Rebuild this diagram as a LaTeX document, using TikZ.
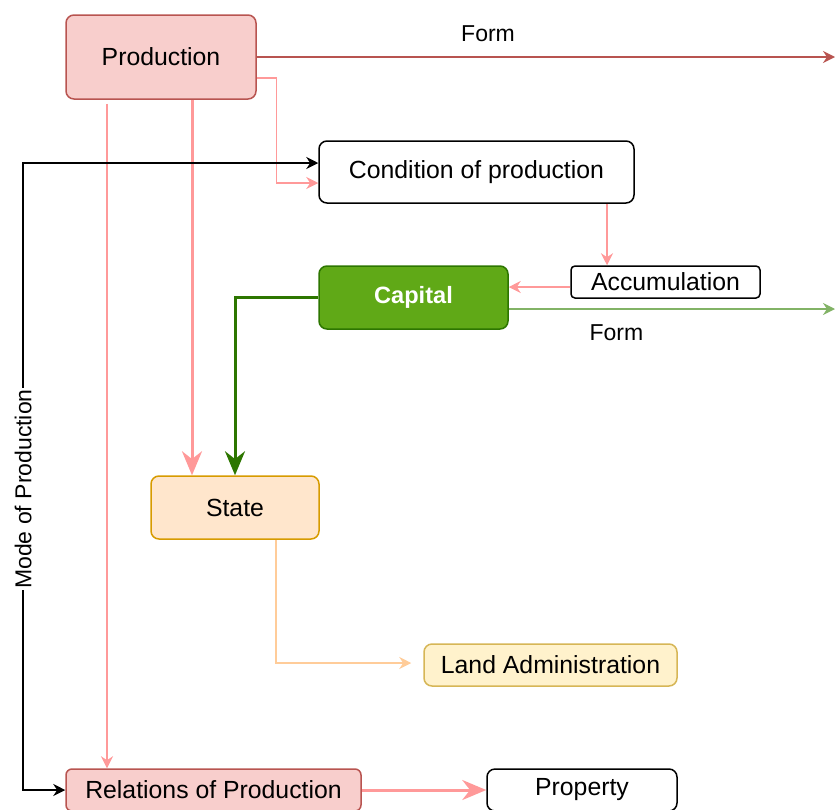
\documentclass[tikz,border=0pt]{standalone}
\usepackage{fontspec}
\setmainfont{Liberation Sans}
\usepackage{tikz}
\usetikzlibrary{arrows.meta,positioning,calc}
\definecolor{prodfill}{HTML}{F8CECC}
\definecolor{proddraw}{HTML}{B85450}
\definecolor{pinkline}{HTML}{FF9999}
\definecolor{capfill}{HTML}{60A917}
\definecolor{capdraw}{HTML}{2D7600}
\definecolor{formgreen}{HTML}{82B366}
\definecolor{statefill}{HTML}{FFE6CC}
\definecolor{statedraw}{HTML}{D79B00}
\definecolor{stateline}{HTML}{FFCC99}
\definecolor{landfill}{HTML}{FFF2CC}
\definecolor{landdraw}{HTML}{D6B656}
\tikzset{
  % every node uses the same font
  every node/.append style={font=\fontsize{12.4}{15}\selectfont},
  % basic box
  box/.style={
    draw=black,
    line width=0.75pt,
    rounded corners=4pt,
    fill=white,
    inner sep=2pt
  },
  % pink boxes
  prodbox/.style={box, draw=proddraw, fill=prodfill},
  % green box
  capbox/.style={box, draw=capdraw, fill=capfill, text=white, font=\fontsize{11.8}{14}\selectfont\bfseries},
  % orange / yellow boxes
  statebox/.style={box, draw=statedraw, fill=statefill},
  landbox/.style={box, draw=landdraw, fill=landfill},
  % arrows
  thinarr/.style={-{Stealth[length=6pt,width=6pt]}, line width=0.6pt},
  thickarr/.style={-{Stealth[length=12pt,width=10pt]}, line width=1.5pt},
  lab/.style={font=\fontsize{11.5}{13}\selectfont, text=black},
}
\begin{document}
\begin{tikzpicture}[x=0.5pt, y=-0.5pt]
    \useasboundingbox (0,0) rectangle (835,809);

    % Boxes
    \node[prodbox, minimum width=95pt, minimum height=42pt] (prod) at (161,57) {Production};
    \node[box, minimum width=157.5pt, minimum height=31pt] (cond) at (476.5,172) {Condition of production};
    \node[box, rounded corners=2pt, minimum width=94.5pt, minimum height=16pt] (acc) at (665.5,282) {Accumulation};
    \node[capbox, minimum width=94.5pt, minimum height=31.5pt] (cap) at (413.5,297.5) {Capital};
    \node[statebox, minimum width=84pt, minimum height=31.5pt] (state) at (235,507.5) {State};
    \node[landbox, minimum width=126.5pt, minimum height=21pt] (land) at (550.5,665) {Land Administration};
    \node[prodbox, rounded corners=3pt, minimum width=147.5pt, minimum height=21pt] (rel) at (213.5,790) {Relations of Production};
    \node[box, minimum width=95pt, minimum height=21pt] (prop) at (582,790) {Property};

    % loose ends on the right
    \coordinate (prodend) at (835,57);
    \coordinate (capend) at (835,309);

    % Production
    \draw[thinarr, proddraw, line width=0.9pt] (prod.east) -- (prodend)
        node[lab, above=4pt, pos=0.40] (form1) {Form};
    \draw[thinarr, pinkline] ([yshift=-10.5pt]prod.east) -- ++(10pt,0) |- ([yshift=-5.5pt]cond.west);
    \draw[thickarr, pinkline] ([xshift=15.5pt]prod.south) -- ([xshift=15.5pt]prod.south |- state.north);
    \draw[thinarr, pinkline] ([xshift=-27pt, yshift=-2pt]prod.south) -- ([xshift=-27pt]prod.south |- rel.north);

    % Mode of Production
    \draw[{Stealth[length=6pt,width=6pt]}-{Stealth[length=6pt,width=6pt]}, black, line width=0.9pt]
        (rel.west) -- ++(-21pt,0) |- ([yshift=4.5pt]cond.west)
        node[lab, pos=0.24, rotate=90, fill=white, inner sep=0.5pt] (mode) {Mode of Production};

    % Condition, Accumulation, Capital
    \draw[thinarr, pinkline] ([xshift=65.25pt]cond.south) -- ([xshift=65.25pt]cond.south |- acc.north);
    \draw[thinarr, pinkline] ([yshift=-2.5pt]acc.west) -- ([yshift=-2.5pt]acc.west -| cap.east);
    \draw[thinarr, formgreen] ([yshift=-5.75pt]cap.east) -- (capend)
        node[lab, below=4pt, pos=0.33] (form2) {Form};
    \draw[thickarr, capdraw] (cap.west) -| (state.north);

    % State and Relations
    \draw[thinarr, stateline, shorten >=6pt] ([xshift=20.5pt]state.south) |- ([yshift=1pt]land.west);
    \draw[thickarr, pinkline] (rel.east) -- (prop.west);
\end{tikzpicture}
\end{document}
